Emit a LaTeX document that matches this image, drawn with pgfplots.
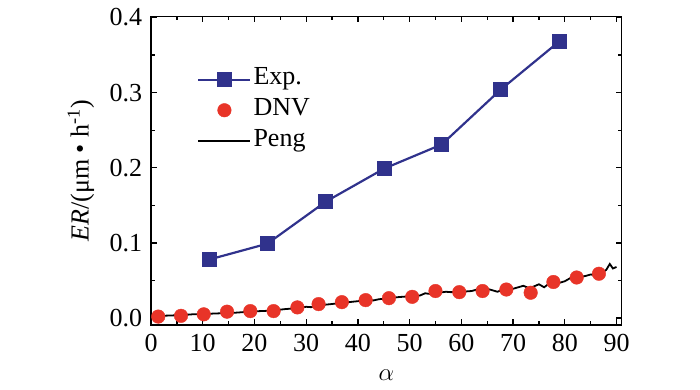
\documentclass[border=0pt]{standalone}
\usepackage{fontspec}
\setmainfont{Liberation Serif}
\usepackage{pgfplots}
\pgfplotsset{compat=1.18}
\definecolor{expblue}{RGB}{48,50,140}
\definecolor{dnvred}{RGB}{232,52,40}
\pgfplotsset{
  longlegend/.style={legend image code/.code={\draw[##1, mark repeat=2, mark phase=2] plot coordinates {(0bp,0bp) (26bp,0bp) (52bp,0bp)};}},
  longline/.style={legend image code/.code={\draw[##1] (0bp,0bp) -- (52bp,0bp);}},
}
\begin{document}
\fontsize{26bp}{29bp}\selectfont
\begin{tikzpicture}
\begin{axis}[
  scale only axis,
  width=470.7bp, height=308.7bp,
  xmin=0, xmax=91, ymin=-0.0093, ymax=0.4015,
  xtick={0,10,...,90}, minor xtick={5,15,...,85},
  ytick={0,0.1,0.2,0.3,0.4}, minor ytick={0.05,0.15,0.25,0.35},
  yticklabel style={/pgf/number format/.cd,fixed,fixed zerofill,precision=1},
  /pgf/number format/assume math mode=true,
  tick align=inside,
  major tick length=6bp, minor tick length=4bp,
  tick style={black, line width=1.3pt},
  axis line style={black, line width=1.6pt},
  ticklabel style={font=\fontsize{26bp}{29bp}\selectfont},
  xlabel={$\alpha$},
  ylabel={\textit{ER}/(μm • h\textsuperscript{-1})},
  label style={font=\fontsize{26bp}{29bp}\selectfont},
  xlabel style={yshift=-1bp},
  ylabel style={yshift=-2bp},
  legend style={draw=none, fill=none, at={(rel axis cs:0.098,0.84)}, anchor=north west,
    font=\fontsize{26bp}{29bp}\selectfont, row sep=3bp, inner sep=0pt,
    nodes={inner sep=2bp, text depth=0.25em}},
  legend cell align=left,
  clip=false,
]
\addplot[color=expblue, line width=2.2pt, mark=square*, mark size=6.3bp,
  mark options={fill=expblue, solid}, longlegend]
  coordinates {(11.3,0.078) (22.5,0.099) (33.8,0.155) (45.1,0.199) (56.2,0.231) (67.6,0.304) (78.9,0.368)};
\addlegendentry{Exp.}
\addplot[only marks, mark=*, mark size=6.8bp, color=dnvred, mark options={fill=dnvred, draw=dnvred}, longlegend]
  coordinates {(1.4,0.002) (5.8,0.003) (10.2,0.005) (14.7,0.0085) (19.2,0.0093) (23.7,0.0093)
  (28.3,0.0142) (32.4,0.0186) (36.9,0.0212) (41.5,0.0239) (46.0,0.0265) (50.5,0.0283)
  (55.0,0.036) (59.6,0.0345) (64.1,0.036) (68.7,0.038) (73.4,0.0337) (77.8,0.048) (82.3,0.054) (86.6,0.059)};
\addlegendentry{DNV}
\addplot[black, line width=1.8pt, longline]
  coordinates {(2,0.003) (4,0.0035) (6,0.004) (8,0.005) (10,0.005) (12,0.006) (14,0.0065) (16,0.007)
  (18,0.008) (20,0.009) (22,0.0095) (24,0.0105) (26,0.012) (28,0.013) (30,0.015) (31,0.0145) (32,0.017)
  (34,0.018) (36,0.0195) (38,0.021) (40,0.0225) (42,0.024) (43,0.0235) (44,0.025) (46,0.0265) (48,0.028)
  (50,0.029) (52,0.030) (53,0.033) (54,0.032) (55,0.035) (56,0.034) (57,0.035) (58,0.0345) (60,0.035)
  (62,0.036) (63,0.038) (64,0.036) (65,0.039) (66,0.037) (67,0.035) (68,0.038) (69,0.042) (70,0.039)
  (71,0.041) (72,0.043) (73,0.040) (74,0.042) (75,0.045) (76,0.041) (77,0.046) (78,0.050) (79,0.047)
  (80,0.049) (81,0.053) (82,0.051) (83,0.055) (84,0.056) (85,0.058) (86,0.057) (87,0.060) (88,0.064)
  (88.7,0.072) (89.3,0.066) (90,0.068)};
\addlegendentry{Peng}
\end{axis}
\path (current axis.south west) ++(-151bp,-62.3bp) coordinate (bbA);
\path (current axis.north east) ++(78.3bp,13bp) coordinate (bbB);
\path (bbA) rectangle (bbB);
\end{tikzpicture}
\end{document}
